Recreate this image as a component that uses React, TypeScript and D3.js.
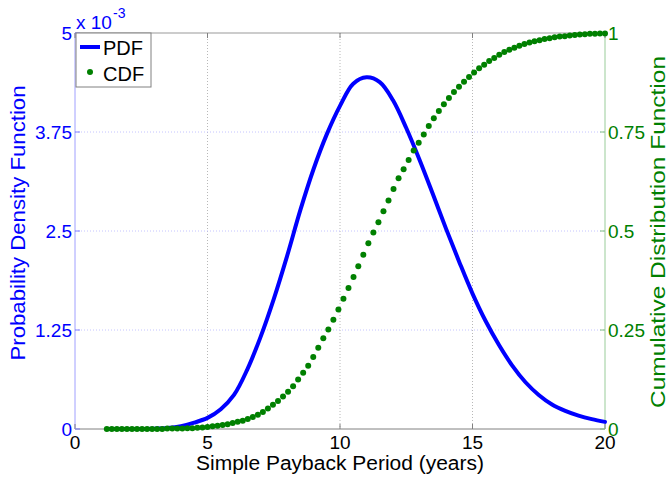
import React from "react";
import * as d3 from "d3";

const X_TICKS = [0, 5, 10, 15, 20];
const PDF_TICKS = [0, 1.25, 2.5, 3.75, 5];
const PDF_TICK_LABELS = ["0", "1.25", "2.5", "3.75", "5"];
const CDF_TICKS = [0, 0.25, 0.5, 0.75, 1];
const CDF_TICK_LABELS = ["0", "0.25", "0.5", "0.75", "1"];

// PDF (x 10^-3)
const PDF_X = [1.2, 2, 2.5, 3, 3.5, 4, 4.5, 5, 5.5, 6, 6.5, 7, 7.5, 8, 8.5, 9, 9.5, 10, 10.5, 11, 11.5, 12, 12.5, 13, 13.5, 14, 14.5, 15, 15.5, 16, 16.5, 17, 17.5, 18, 18.5, 19, 19.5, 20];
const PDF_Y = [0, 0, 0.001, 0.004, 0.012, 0.035, 0.08, 0.14, 0.25, 0.43, 0.75, 1.16, 1.64, 2.18, 2.76, 3.28, 3.72, 4.08, 4.36, 4.44, 4.38, 4.15, 3.8, 3.4, 2.97, 2.53, 2.11, 1.71, 1.36, 1.06, 0.8, 0.59, 0.43, 0.31, 0.23, 0.17, 0.125, 0.09];

const CDF_X = [1.2, 1.39, 1.58, 1.77, 1.96, 2.15, 2.34, 2.53, 2.72, 2.91, 3.1, 3.29, 3.48, 3.67, 3.86, 4.05, 4.24, 4.43, 4.62, 4.81, 5.0, 5.19, 5.38, 5.57, 5.76, 5.95, 6.14, 6.33, 6.52, 6.71, 6.9, 7.09, 7.28, 7.47, 7.66, 7.85, 8.04, 8.23, 8.42, 8.61, 8.8, 8.99, 9.18, 9.37, 9.56, 9.75, 9.94, 10.13, 10.32, 10.51, 10.69, 10.88, 11.07, 11.26, 11.45, 11.64, 11.83, 12.02, 12.21, 12.4, 12.59, 12.78, 12.97, 13.16, 13.35, 13.54, 13.73, 13.92, 14.11, 14.3, 14.49, 14.68, 14.87, 15.06, 15.25, 15.44, 15.63, 15.82, 16.01, 16.2, 16.39, 16.58, 16.77, 16.96, 17.15, 17.34, 17.53, 17.72, 17.91, 18.1, 18.29, 18.48, 18.67, 18.86, 19.05, 19.24, 19.43, 19.62, 19.81, 20.0];
const CDF_Y = [0, 0, 0, 0, 0, 0, 0, 0, 0, 0, 0, 0, 0.001, 0.001, 0.001, 0.001, 0.002, 0.002, 0.003, 0.004, 0.005, 0.007, 0.008, 0.01, 0.012, 0.015, 0.018, 0.021, 0.025, 0.03, 0.036, 0.043, 0.052, 0.061, 0.071, 0.082, 0.094, 0.108, 0.125, 0.142, 0.16, 0.182, 0.205, 0.229, 0.251, 0.276, 0.302, 0.329, 0.356, 0.384, 0.411, 0.44, 0.469, 0.496, 0.522, 0.55, 0.577, 0.606, 0.633, 0.656, 0.679, 0.703, 0.723, 0.744, 0.765, 0.785, 0.803, 0.82, 0.836, 0.851, 0.864, 0.877, 0.889, 0.9, 0.911, 0.92, 0.929, 0.937, 0.945, 0.952, 0.958, 0.963, 0.968, 0.972, 0.976, 0.979, 0.982, 0.985, 0.987, 0.989, 0.991, 0.992, 0.994, 0.995, 0.996, 0.997, 0.998, 0.998, 0.999, 0.999];

const W = 668;
const H = 479;
const L = 75, R = 605, T = 33, B = 429;
const FONT = "'Liberation Sans', Arial, sans-serif";
const BLUE = "#0000ff";
const GREEN = "#008000";

export default function App() {
  const x = d3.scaleLinear().domain([0, 20]).range([L, R]);
  const yP = d3.scaleLinear().domain([0, 5]).range([B, T]);
  const yC = d3.scaleLinear().domain([0, 1]).range([B, T]);

  const pdfData = PDF_X.map((v, i) => [v, PDF_Y[i]] as [number, number]);
  const pdfPath = d3
    .line<[number, number]>()
    .x((d) => x(d[0]))
    .y((d) => yP(d[1]))
    .curve(d3.curveCatmullRom.alpha(0.5))(pdfData) as string;

  return (
    <svg width={W} height={H} style={{ position: "absolute", left: 0, top: 0, background: "#fff" }} fontFamily={FONT}>
      <rect x={0} y={0} width={W} height={H} fill="#fff" />
      {/* vertical grid */}
      {X_TICKS.filter((t) => t > 0 && t < 20).map((t) => (
        <line key={"gx" + t} x1={x(t)} x2={x(t)} y1={T} y2={B} stroke="#b8b8b8" strokeWidth={1} strokeDasharray="1,2" />
      ))}
      {/* horizontal grid */}
      {PDF_TICKS.filter((t) => t > 0 && t < 5).map((t) => (
        <line key={"gy" + t} x1={L} x2={R} y1={yP(t)} y2={yP(t)} stroke="#c4c4ff" strokeWidth={1} strokeDasharray="1,2" />
      ))}
      {/* box */}
      <line x1={L} x2={R} y1={T} y2={T} stroke="#999" strokeWidth={1} />
      <line x1={L} x2={R} y1={B} y2={B} stroke="#808080" strokeWidth={1} />
      <line x1={L} x2={L} y1={T} y2={B} stroke="#a0a0ff" strokeWidth={1} />
      <line x1={R} x2={R} y1={T} y2={B} stroke="#99cc99" strokeWidth={1} />
      {/* x ticks */}
      {X_TICKS.map((t) => (
        <g key={"xt" + t}>
          <line x1={x(t)} x2={x(t)} y1={B} y2={B - 5} stroke="#808080" />
          <line x1={x(t)} x2={x(t)} y1={T} y2={T + 5} stroke="#808080" />
          <text x={x(t)} y={449} textAnchor="middle" fontSize={19} fill="#000">{t}</text>
        </g>
      ))}
      {/* left ticks */}
      {PDF_TICKS.map((t, i) => (
        <g key={"yl" + t}>
          <line x1={L} x2={L + 5} y1={yP(t)} y2={yP(t)} stroke="#8080ff" />
          <text x={72} y={yP(t)} dy="0.35em" textAnchor="end" fontSize={19} fill={BLUE}>{PDF_TICK_LABELS[i]}</text>
        </g>
      ))}
      {/* right ticks */}
      {CDF_TICKS.map((t, i) => (
        <g key={"yr" + t}>
          <line x1={R - 5} x2={R} y1={yC(t)} y2={yC(t)} stroke="#80c080" />
          <text x={608} y={yC(t)} dy="0.35em" textAnchor="start" fontSize={19} fill={GREEN}>{CDF_TICK_LABELS[i]}</text>
        </g>
      ))}
      {/* exponent */}
      <text x={76} y={29} fontSize={19} fill={BLUE}>x 10</text>
      <text x={113} y={18} fontSize={14} fill={BLUE}>-3</text>

      {/* PDF line */}
      <path d={pdfPath} fill="none" stroke={BLUE} strokeWidth={4} strokeLinejoin="round" strokeLinecap="round" />
      {/* CDF dots */}
      {CDF_X.map((v, i) => (
        <circle key={"c" + i} cx={x(v)} cy={yC(CDF_Y[i])} r={3} fill={GREEN} />
      ))}

      {/* axis titles */}
      <text x={(L + R) / 2} y={470} textAnchor="middle" fontSize={20} fill="#000" textLength={288} lengthAdjust="spacingAndGlyphs">Simple Payback Period (years)</text>
      <text transform={`translate(25,223) rotate(-90)`} textAnchor="middle" fontSize={20} fill={BLUE} textLength={275} lengthAdjust="spacingAndGlyphs">Probability Density Function</text>
      <text transform={`translate(665,232) rotate(-90)`} textAnchor="middle" fontSize={20} fill={GREEN} textLength={352} lengthAdjust="spacingAndGlyphs">Cumulative Distribution Function</text>

      {/* legend */}
      <rect x={76} y={33} width={75} height={54} fill="#fff" stroke="#808080" strokeWidth={1} />
      <line x1={80} x2={100} y1={47} y2={47} stroke={BLUE} strokeWidth={4} />
      <text x={103} y={55} fontSize={20} fill="#000">PDF</text>
      <circle cx={90} cy={72} r={3} fill={GREEN} />
      <text x={103} y={81} fontSize={20} fill="#000">CDF</text>
    </svg>
  );
}
